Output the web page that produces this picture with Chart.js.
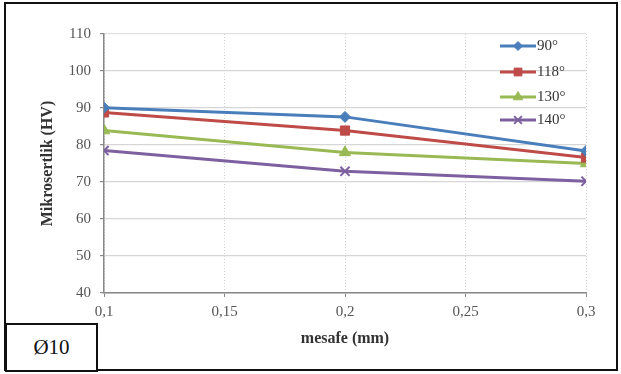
<!DOCTYPE html>
<html><head><meta charset="utf-8">
<script src="https://cdn.jsdelivr.net/npm/chart.js@4/dist/chart.umd.min.js"></script>
<style>
html,body{margin:0;padding:0;background:#fff;}
#wrap{position:relative;width:621px;height:374px;}
#frame{position:absolute;left:4px;top:2px;width:610px;height:365px;border:2px solid #111;box-sizing:content-box;pointer-events:none;}
#tag{position:absolute;left:5px;top:323px;width:89px;height:45px;border:2px solid #111;background:#fff;font-family:"Liberation Serif",serif;font-size:21px;line-height:45px;text-align:center;color:#111;}
canvas{position:absolute;left:0;top:0;}
</style></head>
<body><div id="wrap"><canvas id="c" width="621" height="374"></canvas><div id="frame"></div><div id="tag">Ø10</div></div>
<script>
const distances = [0.1, 0.2, 0.3];
const seriesLabels = ['90°', '118°', '130°', '140°'];
const hv90 = [90.1, 87.6, 78.4];
const hv118 = [88.8, 83.9, 76.6];
const hv130 = [83.9, 78.0, 75.0];
const hv140 = [78.5, 72.9, 70.2];
const yTicks = [40, 50, 60, 70, 80, 90, 100, 110];
const xTicks = [0.1, 0.15, 0.2, 0.25, 0.3];

const colors = ['#4A7EBB', '#BE4B48', '#98B954', '#7D60A0'];
const markers = ['rectRot', 'rect', 'triangle', 'crossRot'];
const radii = [5.5, 6.5, 6.5, 6.5];
const allSeries = [hv90, hv118, hv130, hv140];

const datasets = allSeries.map((s, i) => ({
  label: seriesLabels[i],
  data: distances.map((d, j) => ({x: d, y: s[j]})),
  borderColor: colors[i],
  backgroundColor: colors[i],
  borderWidth: 3,
  pointStyle: markers[i],
  pointRadius: radii[i],
  pointBorderWidth: i === 3 ? 2 : 1,
  pointBorderColor: colors[i],
  tension: 0
}));

const legendPlugin = {
  id: 'customLegend',
  afterDraw(chart) {
    const ctx = chart.ctx;
    const ys = [46, 72, 97, 120];
    ctx.save();
    chart.data.datasets.forEach((ds, i) => {
      const y = ys[i];
      ctx.strokeStyle = ds.borderColor;
      ctx.lineWidth = 3;
      ctx.beginPath(); ctx.moveTo(500, y); ctx.lineTo(536, y); ctx.stroke();
      ctx.fillStyle = ds.backgroundColor;
      ctx.strokeStyle = ds.borderColor;
      ctx.lineWidth = ds.pointBorderWidth;
      Chart.helpers.drawPoint(ctx, {pointStyle: ds.pointStyle, radius: ds.pointRadius - 1, borderWidth: ds.pointBorderWidth, rotation: 0}, 518, y);
      ctx.fillStyle = '#333';
      ctx.font = '15px "Liberation Serif", serif';
      ctx.textBaseline = 'middle';
      ctx.textAlign = 'left';
      ctx.fillText(ds.label, 537, y);
    });
    ctx.restore();
  }
};

new Chart(document.getElementById('c'), {
  type: 'line',
  data: { datasets },
  options: {
    responsive: false,
    animation: false,
    layout: { padding: { left: 38, right: 35, top: 34, bottom: 26 } },
    plugins: { legend: { display: false }, tooltip: { enabled: false } },
    scales: {
      x: {
        type: 'linear', min: 0.1, max: 0.3,
        afterBuildTicks(scale) { scale.ticks = xTicks.map(v => ({value: v})); },
        afterFit(scale) { scale.height = 55; },
        ticks: {
          color: '#555', padding: 6,
          font: { family: '"Liberation Serif", serif', size: 15 },
          callback: v => String(v).replace('.', ',')
        },
        grid: { color: '#d0d0d0', lineWidth: 1, tickLength: 4, tickColor: '#888' },
        border: { color: '#888', width: 1.5, dash: [1, 2] },
        title: { display: true, text: 'mesafe (mm)', color: '#333', padding: { top: 4, bottom: 0 },
          font: { family: '"Liberation Serif", serif', size: 16, weight: 'bold' } }
      },
      y: {
        min: 40, max: 110,
        afterBuildTicks(scale) { scale.ticks = yTicks.map(v => ({value: v})); },
        afterFit(scale) { scale.width = 66; },
        ticks: { color: '#555', padding: 9, font: { family: '"Liberation Serif", serif', size: 15 } },
        grid: { color: ctx => ctx.tick && ctx.tick.value === 110 ? '#e2e2e2' : '#d6d6d6', lineWidth: 1.2, tickLength: 4, tickColor: '#888' },
        border: { color: '#888', width: 1.5 },
        title: { display: true, text: 'Mikrosertlik (HV)', color: '#333', padding: { top: 0, bottom: 4 },
          font: { family: '"Liberation Serif", serif', size: 16, weight: 'bold' } }
      }
    }
  },
  plugins: [legendPlugin]
});
</script></body></html>
